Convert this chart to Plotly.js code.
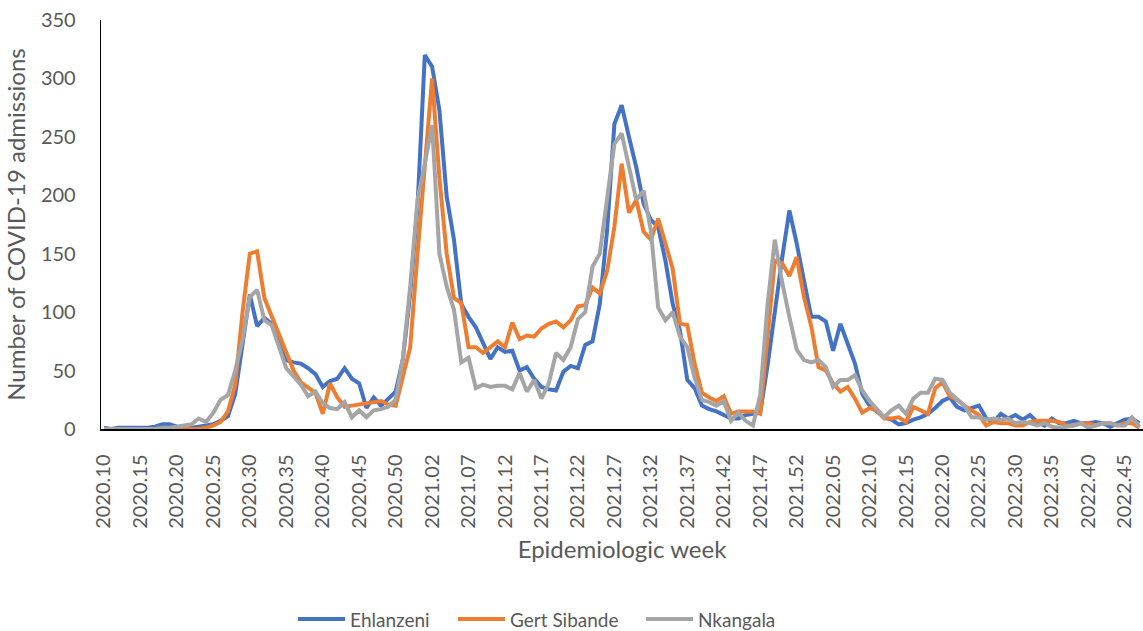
<!DOCTYPE html>
<html>
<head>
<meta charset="utf-8">
<script src="https://cdn.plot.ly/plotly-3.0.1.min.js"></script>
<style>
  html, body { margin: 0; padding: 0; background: #fff; }
  #chart { width: 1143px; height: 631px; }
</style>
</head>
<body>
<div id="chart"></div>
<script>
// Epidemiologic weeks: 2020.10 - 2020.53, 2021.01 - 2021.52, 2022.01 - 2022.47
const yearRanges = [[2020, 10, 53], [2021, 1, 52], [2022, 1, 47]];
const weeks = [];
yearRanges.forEach(function (r) {
  for (let w = r[1]; w <= r[2]; w++) weeks.push(r[0] + '.' + (w < 10 ? '0' + w : '' + w));
});
const tickLabels = weeks.filter(function (_, i) { return i % 5 === 0; });

const ehlanzeni = [
  1, 0, 1, 1, 1, 1, 1, 2, 4, 4,
  2, 2, 1, 2, 3, 4, 7, 11, 30, 72,
  115, 88, 95, 90, 75, 59, 57, 56, 52, 47,
  36, 41, 43, 52, 43, 39, 18, 27, 20, 26,
  32, 60, 116, 190, 320, 310, 273, 199, 162, 107,
  96, 87, 73, 60, 70, 66, 67, 50, 53, 43,
  36, 34, 33, 49, 54, 52, 72, 75, 107, 170,
  261, 277, 250, 224, 193, 179, 173, 144, 107, 84,
  42, 35, 20, 17, 15, 12, 9, 9, 12, 13,
  14, 54, 103, 146, 187, 159, 127, 96, 96, 92,
  67, 90, 73, 56, 30, 20, 15, 10, 8, 4,
  5, 8, 10, 13, 18, 24, 27, 19, 16, 18,
  20, 9, 6, 13, 9, 12, 8, 12, 6, 3,
  9, 5, 5, 7, 5, 5, 6, 5, 2, 5,
  8, 9, 5
];

const gertSibande = [
  0, 0, 0, 0, 0, 0, 0, 0, 0, 0,
  0, 0, 0, 0, 1, 3, 6, 15, 38, 100,
  150, 152, 112, 96, 80, 64, 50, 40, 35, 31,
  13, 39, 27, 19, 20, 21, 22, 23, 24, 21,
  20, 45, 70, 150, 225, 300, 215, 150, 112, 108,
  70, 70, 65, 70, 75, 70, 91, 77, 80, 79,
  86, 90, 92, 87, 93, 105, 106, 121, 116, 135,
  173, 227, 185, 196, 169, 162, 180, 159, 137, 90,
  89, 56, 31, 27, 24, 28, 13, 15, 15, 15,
  13, 75, 144, 142, 131, 147, 113, 88, 53, 50,
  39, 32, 36, 26, 14, 18, 16, 9, 9, 10,
  6, 19, 16, 13, 35, 40, 28, 25, 20, 16,
  12, 3, 6, 5, 5, 3, 3, 6, 7, 7,
  7, 6, 3, 3, 5, 5, 3, 5, 5, 3,
  5, 5, 1
];

const nkangala = [
  0, 0, 0, 0, 0, 0, 0, 0, 1, 1,
  2, 3, 4, 9, 6, 14, 25, 29, 50, 76,
  113, 119, 93, 89, 70, 52, 45, 38, 28, 32,
  22, 18, 17, 23, 10, 16, 10, 16, 17, 19,
  25, 61, 122, 196, 227, 260, 150, 122, 102, 57,
  61, 35, 38, 36, 37, 37, 34, 48, 32, 42,
  26, 39, 65, 59, 70, 94, 100, 139, 150, 196,
  244, 253, 226, 196, 204, 170, 104, 93, 100, 79,
  70, 44, 25, 23, 20, 24, 7, 14, 7, 3,
  29, 106, 162, 126, 96, 68, 59, 57, 59, 53,
  36, 42, 42, 46, 33, 24, 17, 10, 16, 20,
  13, 26, 31, 31, 43, 42, 31, 26, 20, 10,
  10, 8, 9, 8, 9, 5, 6, 5, 3, 5,
  2, 1, 2, 3, 5, 1, 3, 5, 5, 3,
  3, 10, 2
];

const seriesNames = ['Ehlanzeni', 'Gert Sibande', 'Nkangala'];
const seriesColors = ['#4472C4', '#ED7D31', '#A5A5A5'];
const seriesValues = [ehlanzeni, gertSibande, nkangala];

const yTicks = [0, 50, 100, 150, 200, 250, 300, 350];

const traces = seriesValues.map(function (vals, k) {
  return {
    type: 'scatter',
    mode: 'lines',
    name: seriesNames[k],
    x: weeks,
    y: vals,
    line: { color: seriesColors[k], width: 4, shape: 'linear' },
    hoverinfo: 'x+y+name'
  };
});

const fontFam = 'Lato, "Open Sans", sans-serif';
const grey = '#595959';

// Legend drawn below the plot (paper coordinates: plot spans x 101..1143px, y 20..429px)
const plotL = 101, plotW = 1042, plotB = 429, plotH = 409;
function px2x(p) { return (p - plotL) / plotW; }
function px2y(p) { return (plotB - p) / plotH; }
const legendLineStart = [298, 458, 646];
const legendY = 619;
const legendShapes = seriesNames.map(function (n, k) {
  return {
    type: 'line', xref: 'paper', yref: 'paper',
    x0: px2x(legendLineStart[k]), x1: px2x(legendLineStart[k] + 47),
    y0: px2y(legendY), y1: px2y(legendY),
    line: { color: seriesColors[k], width: 4 }
  };
});
const legendAnn = seriesNames.map(function (n, k) {
  return {
    xref: 'paper', yref: 'paper',
    x: px2x(legendLineStart[k] + 50), y: px2y(legendY),
    xanchor: 'left', yanchor: 'middle',
    text: n, showarrow: false,
    font: { family: fontFam, size: 19, color: grey }
  };
});

const layout = {
  width: 1143,
  height: 631,
  margin: { l: plotL, r: 0, t: 20, b: 202, pad: 0 },
  paper_bgcolor: '#ffffff',
  plot_bgcolor: '#ffffff',
  font: { family: fontFam, color: grey, size: 19 },
  showlegend: false,
  shapes: legendShapes,
  annotations: legendAnn,
  xaxis: {
    type: 'category',
    range: [-0.41, 142.5],
    tickmode: 'array',
    tickvals: tickLabels,
    ticktext: tickLabels,
    tickangle: -90,
    tickfont: { family: fontFam, size: 20, color: grey },
    ticks: 'outside',
    ticklen: 16,
    tickcolor: 'rgba(0,0,0,0)',
    showgrid: false,
    zeroline: false,
    showline: true,
    linecolor: '#000000',
    linewidth: 1.5,
    automargin: false,
    title: { text: 'Epidemiologic week', font: { family: fontFam, size: 24, color: grey }, standoff: 13 }
  },
  yaxis: {
    range: [0, 350],
    tickmode: 'array',
    tickvals: yTicks,
    ticktext: yTicks.map(String),
    tickfont: { family: fontFam, size: 20, color: grey },
    ticks: 'outside',
    ticklen: 20,
    tickcolor: 'rgba(0,0,0,0)',
    showgrid: false,
    zeroline: false,
    showline: true,
    linecolor: '#000000',
    linewidth: 1.3,
    automargin: false,
    title: { text: 'Number of COVID-19 admissions', font: { family: fontFam, size: 24, color: grey }, standoff: 8 }
  }
};

Plotly.newPlot('chart', traces, layout, { displayModeBar: false, staticPlot: true });
</script>
</body>
</html>
